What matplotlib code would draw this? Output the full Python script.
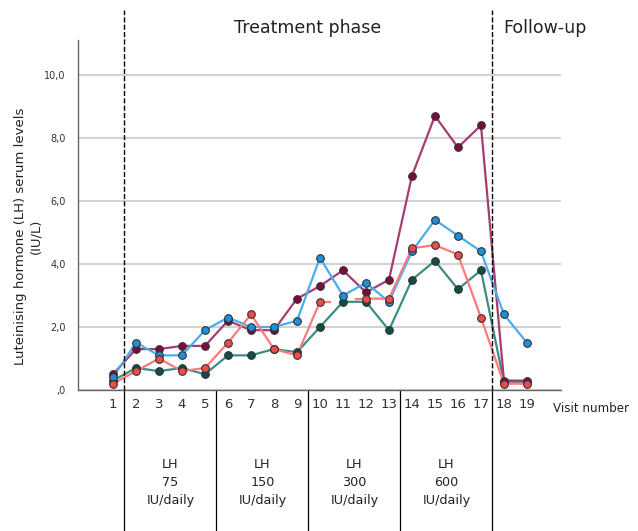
import numpy as np
import matplotlib
matplotlib.use('Agg')
import matplotlib.pyplot as plt
import matplotlib.transforms as mtransforms

visits = list(range(1, 20))
nan = np.nan

lh_blue    = [0.4, 1.5, 1.1, 1.1, 1.9, 2.3, 2.0, 2.0, 2.2, 4.2, 3.0, 3.4, 2.8, 4.4, 5.4, 4.9, 4.4, 2.4, 1.5]
lh_magenta = [0.5, 1.3, 1.3, 1.4, 1.4, 2.2, 1.9, 1.9, 2.9, 3.3, 3.8, 3.1, 3.5, 6.8, 8.7, 7.7, 8.4, 0.3, 0.3]
lh_red     = [0.2, 0.6, 1.0, 0.6, 0.7, 1.5, 2.4, 1.3, 1.1, 2.8, nan, 2.9, 2.9, 4.5, 4.6, 4.3, 2.3, 0.2, 0.2]
lh_teal    = [0.3, 0.7, 0.6, 0.7, 0.5, 1.1, 1.1, 1.3, 1.2, 2.0, 2.8, 2.8, 1.9, 3.5, 4.1, 3.2, 3.8, 0.25, 0.25]

y_ticks = [0, 2, 4, 6, 8, 10]
y_tick_labels = [',0', '2,0', '4,0', '6,0', '8,0', '10,0']

phase_bounds = [1.5, 5.5, 9.5, 13.5, 17.5]
dose_centers = [3.5, 7.5, 11.5, 15.5]
doses = ['75', '150', '300', '600']

fig = plt.figure(figsize=(6.38, 5.31), dpi=100)
ax = fig.add_axes([0.1223, 0.2655, 0.7570, 0.6592])

series = [
    (lh_teal, '#3C8C83', '#0D4F48'),
    (lh_magenta, '#A63D72', '#7A0C40'),
    (lh_blue, '#4AAEEA', '#1F8FD8'),
    (lh_red, '#FF7B7B', '#EE4B4B'),
]
for vals, lc, mc in series:
    vals = np.array(vals, dtype=float)
    ax.plot(visits, vals, color=lc, lw=1.6, zorder=3)
    # SPSS-style stubs next to a missing value
    for i in np.where(np.isnan(vals))[0]:
        if i > 0:
            ax.plot([visits[i-1], visits[i-1] + 0.45], [vals[i-1]] * 2, color=lc, lw=1.6, zorder=3)
        if i < len(vals) - 1:
            ax.plot([visits[i+1] - 0.45, visits[i+1]], [vals[i+1]] * 2, color=lc, lw=1.6, zorder=3)
    ax.plot(visits, vals, ls='none', marker='o', ms=5.5, mfc=mc, mec='#333333', mew=0.8, zorder=4)

ax.set_xlim(-0.52, 20.48)
ax.set_ylim(0, 11.11)
ax.set_yticks(y_ticks)
ax.set_yticklabels(y_tick_labels, fontsize=7, color='#333333')
ax.set_xticks(visits)
ax.set_xticklabels([str(v) for v in visits], fontsize=9.5, color='#333333')
ax.tick_params(length=0, pad=6)
ax.tick_params(axis='y', pad=9)
ax.yaxis.grid(True, color='#D3D3D3', lw=1.5)
ax.set_axisbelow(True)
for s in ['top', 'right']:
    ax.spines[s].set_visible(False)
for s in ['left', 'bottom']:
    ax.spines[s].set_color('#666666')
    ax.spines[s].set_linewidth(1.0)

# dashed phase lines and solid dose separators
for x in [1.5, 17.5]:
    ax.axvline(x, ymin=0, ymax=1.086, color='black', ls='--', lw=1, clip_on=False, zorder=5)
for x in phase_bounds:
    ax.axvline(x, ymin=-0.41, ymax=0, color='black', lw=0.9, clip_on=False)

trans = mtransforms.blended_transform_factory(ax.transData, ax.transAxes)
for xc, d in zip(dose_centers, doses):
    ax.text(xc, -0.265, 'LH\n' + d + '\nIU/daily', transform=trans, ha='center', va='center',
            fontsize=9.2, linespacing=1.5, color='#222222')

fig.text(308 / 638, 1 - 28 / 531, 'Treatment phase', ha='center', va='center', fontsize=12.5, color='#222222')
fig.text(545 / 638, 1 - 28 / 531, 'Follow-up', ha='center', va='center', fontsize=12.5, color='#222222')
fig.text(553 / 638, 1 - 408 / 531, 'Visit number', ha='left', va='center', fontsize=8.6, color='#222222')
fig.text(28 / 638, 1 - 236 / 531, 'Luteinising hormone (LH) serum levels\n(IU/L)', rotation=90,
         ha='center', va='center', multialignment='center', fontsize=9.5, color='#222222')

fig.savefig('out.png', dpi=100)
